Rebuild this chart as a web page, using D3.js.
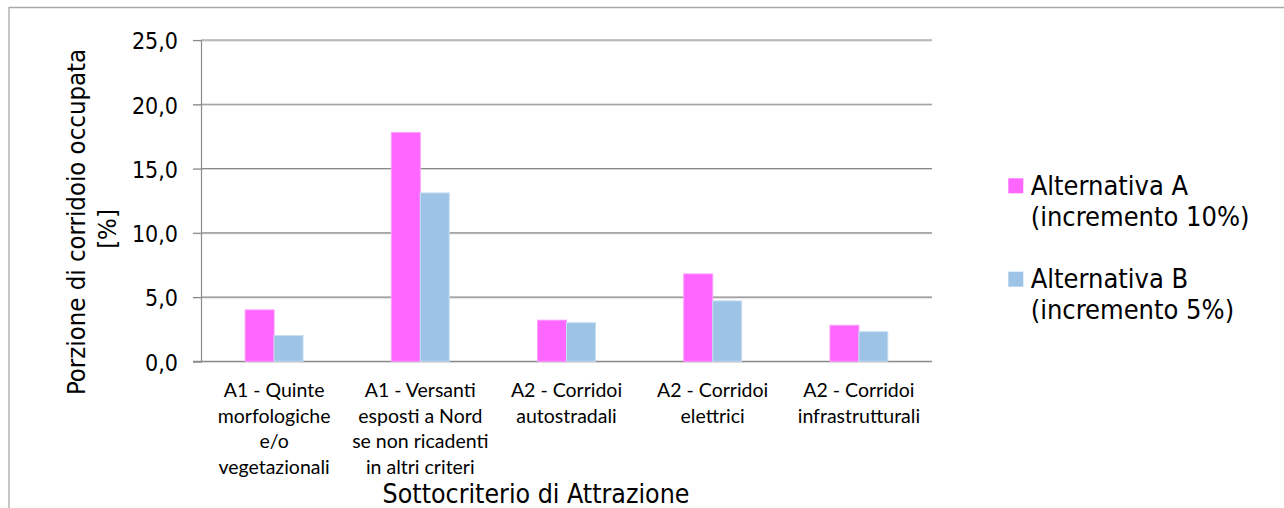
<!DOCTYPE html>
<html>
<head>
<meta charset="utf-8">
<script src="https://cdn.jsdelivr.net/npm/d3@7"></script>
<style>
  html, body { margin: 0; padding: 0; background: #fff; }
  svg { display: block; }
</style>
</head>
<body>
<svg id="chart" width="1284" height="508"></svg>
<script>
// ---- data ----
const categories = [
  "A1 - Quinte morfologiche e/o vegetazionali",
  "A1 - Versanti esposti a Nord se non ricadenti in altri criteri",
  "A2 - Corridoi autostradali",
  "A2 - Corridoi elettrici",
  "A2 - Corridoi infrastrutturali"
];
const categoryLines = [
  ["A1 - Quinte", "morfologiche", "e/o", "vegetazionali"],
  ["A1 - Versanti", "esposti a Nord", "se non ricadenti", "in altri criteri"],
  ["A2 - Corridoi", "autostradali"],
  ["A2 - Corridoi", "elettrici"],
  ["A2 - Corridoi", "infrastrutturali"]
];
const seriesNames = ["Alternativa A", "Alternativa B"];
const legendLines = [
  ["Alternativa A", "(incremento 10%)"],
  ["Alternativa B", "(incremento 5%)"]
];
const valuesA = [4.0, 17.8, 3.2, 6.8, 2.8];
const valuesB = [2.0, 13.1, 3.0, 4.7, 2.3];
const yTicks = [0, 5, 10, 15, 20, 25];
const yTitleLines = ["Porzione di corridoio occupata", "[%]"];
const xTitle = "Sottocriterio di Attrazione";

// ---- layout ----
const colors = ["#FF66FF", "#9DC3E6"];
const strokes = ["#FF9CFF", "#C6DDF2"];
const plot = { left: 201, right: 932, top: 40, bottom: 361.3 };
const svg = d3.select("#chart");

const x = d3.scaleBand().domain(d3.range(categories.length))
  .range([plot.left, plot.right]).paddingInner(0).paddingOuter(0);
const barW = x.bandwidth() * 0.198;
const xs = d3.scaleBand().domain(d3.range(seriesNames.length))
  .range([x.bandwidth() / 2 - barW, x.bandwidth() / 2 + barW]).padding(0);
const y = d3.scaleLinear().domain([0, 25]).range([plot.bottom, plot.top]);

// outer frame (only top & left visible)
svg.append("line").attr("x1", 9).attr("x2", 1284).attr("y1", 7.5).attr("y2", 7.5)
  .attr("stroke", "#a8a8a8").attr("stroke-width", 1.3);
svg.append("line").attr("x1", 9).attr("x2", 9).attr("y1", 7).attr("y2", 508)
  .attr("stroke", "#a8a8a8").attr("stroke-width", 1.3);

// gridlines
const grid = svg.append("g");
yTicks.forEach(t => {
  grid.append("line").attr("x1", plot.left - 8).attr("x2", plot.right)
    .attr("y1", y(t) + 1).attr("y2", y(t) + 1)
    .attr("stroke", "#d4d4d4").attr("stroke-width", 1);
  grid.append("line").attr("x1", t === 0 ? plot.left - 8 : plot.left).attr("x2", plot.right)
    .attr("y1", y(t)).attr("y2", y(t))
    .attr("stroke", "#8a8a8a").attr("stroke-width", 1.2);
});

// bars
const series = [valuesA, valuesB];
series.forEach((vals, si) => {
  svg.append("g").selectAll("rect").data(vals).join("rect")
    .attr("x", (d, i) => x(i) + xs(si))
    .attr("y", d => y(d))
    .attr("width", xs.bandwidth())
    .attr("height", d => y(0) - y(d))
    .attr("fill", colors[si])
    .attr("stroke", strokes[si]).attr("stroke-width", 1);
});

// y axis
const yAxis = d3.axisLeft(y).tickValues(yTicks).tickSize(8).tickPadding(15)
  .tickFormat(d => d3.format(".1f")(d).replace(".", ","));
const ya = svg.append("g").attr("transform", `translate(${plot.left},0)`).call(yAxis);
ya.select(".domain").attr("stroke", "#8a8a8a").attr("stroke-width", 1.2);
ya.selectAll(".tick line").attr("stroke", "#8a8a8a").attr("stroke-width", 1.2);
ya.selectAll(".tick text")
  .attr("font-family", "'DejaVu Sans Condensed', 'DejaVu Sans', sans-serif")
  .attr("font-size", 23).attr("fill", "#000").attr("dy", "0.38em");

// x category labels
const lineY = [397, 422.5, 448, 473.5];
const xl = svg.append("g");
categoryLines.forEach((lines, i) => {
  const t = xl.append("text").attr("text-anchor", "middle")
    .attr("font-family", "Lato, sans-serif").attr("font-size", 19.5).attr("fill", "#000");
  lines.forEach((ln, k) => {
    t.append("tspan").attr("x", x(i) + x.bandwidth() / 2).attr("y", lineY[k]).text(ln);
  });
});

// axis titles
const titleFont = "'DejaVu Sans Condensed', 'DejaVu Sans', sans-serif";
svg.append("text").attr("x", 536).attr("y", 503).attr("text-anchor", "middle")
  .attr("font-family", titleFont).attr("font-size", 26.5).attr("fill", "#000").text(xTitle);

const yt = svg.append("g");
yt.append("text").attr("transform", "translate(85,222) rotate(-90)").attr("text-anchor", "middle")
  .attr("font-family", titleFont).attr("font-size", 25.5).attr("fill", "#000").text(yTitleLines[0]);
yt.append("text").attr("transform", "translate(116,229) rotate(-90)").attr("text-anchor", "middle")
  .attr("font-family", titleFont).attr("font-size", 25.5).attr("fill", "#000").text(yTitleLines[1]);

// legend
const leg = svg.append("g");
const legTop = [178.3, 271.7];
legendLines.forEach((lines, i) => {
  leg.append("rect").attr("x", 1008.3).attr("y", legTop[i]).attr("width", 15).attr("height", 15)
    .attr("fill", colors[i]);
  const t = leg.append("text").attr("font-family", titleFont).attr("font-size", 27).attr("fill", "#000");
  lines.forEach((ln, k) => {
    t.append("tspan").attr("x", 1030.7).attr("y", legTop[i] + 16.7 + k * 31).text(ln);
  });
});
</script>
</body>
</html>
